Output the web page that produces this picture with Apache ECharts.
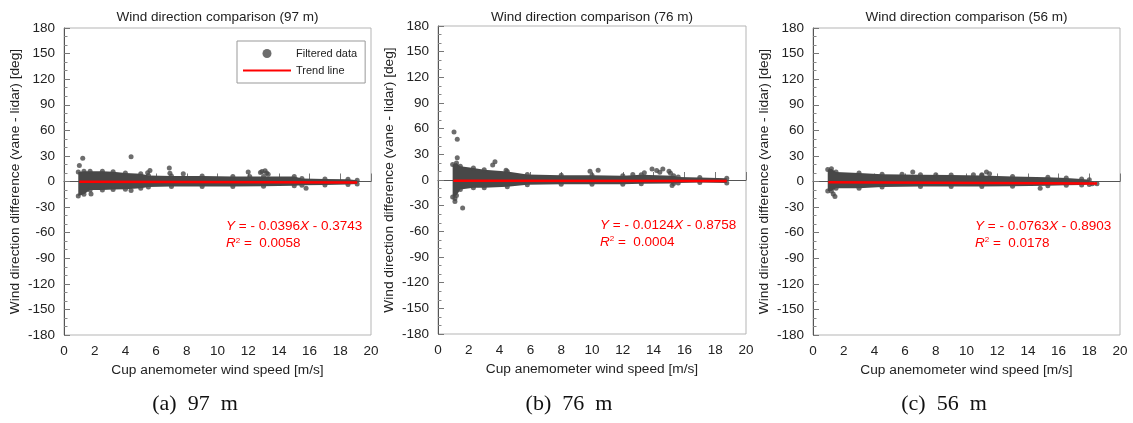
<!DOCTYPE html>
<html><head><meta charset="utf-8">
<script src="https://cdn.jsdelivr.net/npm/echarts@6/dist/echarts.min.js"></script>
<style>html,body{margin:0;padding:0;background:#fff}#c{width:1133px;height:423px}</style>
</head><body><div id="c"></div>
<script>
// ---------- data ----------
const panelTitles = ['Wind direction comparison (97 m)', 'Wind direction comparison (76 m)', 'Wind direction comparison (56 m)'];
const captions = ['(a)  97  m', '(b)  76  m', '(c)  56  m'];
const eqSlope = ['- 0.0396', '- 0.0124', '- 0.0763'];
const eqIntercept = ['- 0.3743', '- 0.8758', '- 0.8903'];
const eqR2 = ['0.0058', '0.0004', '0.0178'];
const xTicks = [0, 20, 2];        // min, max, step
const yTicks = [-180, 180, 30];   // min, max, step
const xName = 'Cup anemometer wind speed [m/s]';
const yName = 'Wind direction difference (vane - lidar) [deg]';

// dense band of filtered data: [wind speed, upper edge, lower edge]
const band97 = [[0.93, 11, -17], [1.3, 12, -15], [1.7, 12, -10], [2.5, 12, -10], [3.2, 11.5, -9.5], [4.0, 10, -9], [5.0, 9, -8], [5.5, 7, -6.5], [7, 6.5, -6], [9, 6.5, -6], [11, 6, -6], [13, 6, -5.5], [15, 6, -5], [15.5, 3.5, -4.5], [17, 3, -4], [18.5, 2.5, -3.5], [19.1, 1.5, -3]];
const band76 = [[0.95, 18, -20], [1.2, 20, -18], [1.45, 16, -11], [2.3, 14, -9], [3.0, 12, -9], [4.5, 10, -8], [5.8, 6.5, -5.5], [8, 5.5, -5], [10, 5.5, -5], [12, 5, -5], [13.2, 6, -4.5], [15.3, 5, -4], [15.6, 3.5, -3.5], [17, 3, -3], [18.75, 2, -3.5]];
const band56 = [[0.96, 14, -11], [1.2, 15, -11], [1.5, 11, -8], [3.0, 10, -8], [4.5, 8.5, -6.5], [7, 8, -6], [9, 7.5, -6], [11, 7, -6], [13, 6, -5.5], [15.3, 5, -5], [16.5, 4, -4.5], [17.5, 3, -4], [18.0, 2, -3.5]];

// scattered points outside the band: [wind speed, difference]
const out97 = [[1.0, 18.8], [1.22, 27.4], [4.37, 29], [5.45, 10.2], [5.6, 12.9], [6.86, 15.7], [6.9, 9.6], [7.77, 9], [12.0, 11], [12.1, 6], [12.8, 10.5], [12.9, 11.7], [13.1, 12.5], [13.2, 10], [13.3, 8.5], [15.77, -7.8], [1.76, -14.8], [4.37, -10.5]];
const out76 = [[1.04, 56], [1.25, 47.5], [1.25, 26], [1.1, -21.7], [1.1, -25], [1.6, -32.6], [3.55, 17.4], [3.7, 21.3], [4.42, 11.5], [9.87, 10.3], [10.4, 11.5], [12.65, 6.4], [13.4, 8.4], [13.9, 13], [14.2, 11], [14.6, 13], [14.4, 9], [15.0, 10.3], [15.1, 8], [15.2, -6.4]];
const out56 = [[1.32, -14.8], [1.43, -17.6], [5.8, 8.6], [6.5, 11], [8.0, 7.8], [10.45, 7.8], [11.0, 7.8], [11.3, 11], [11.5, 9], [14.8, -7.8], [18.2, -2.5], [18.5, -2.5]];

// trend lines (end points of the fitted lines)
const trend97 = [[1.0, -0.41], [19.1, -1.13]];
const trend76 = [[1.0, -0.89], [18.75, -1.11]];
const trend56 = [[1.0, -0.97], [18.5, -2.30]];

const bands = [band97, band76, band56];
const outs = [out97, out76, out56];
const trends = [trend97, trend76, trend56];

// ---------- layout ----------
const grids = [
  {left: 64, top: 28, width: 307, height: 307},
  {left: 438, top: 26, width: 308, height: 308},
  {left: 813, top: 28, width: 307, height: 307}
];
const eqPos = [[226, 226.7], [600, 225.3], [975, 226.3]];
const captionX = [195, 569, 944];
const FONT = 'Liberation Sans, Arial, sans-serif';
const DOT = '#484848';
const RED = '#ff0000';

const chart = echarts.init(document.getElementById('c'), null, {renderer: 'canvas'});

const xAxes = [], yAxes = [], series = [], titles = [], graphics = [];
grids.forEach((g, i) => {
  xAxes.push({
    type: 'value', gridIndex: i, min: xTicks[0], max: xTicks[1], interval: xTicks[2],
    name: xName, nameLocation: 'middle', nameGap: 25,
    nameTextStyle: {fontSize: 13.7, color: '#222', fontFamily: FONT},
    axisLine: {show: true, lineStyle: {color: '#555', width: 1}},
    axisTick: {show: true, inside: true, length: 8, lineStyle: {color: '#777'}},
    axisLabel: {fontSize: 13.5, color: '#222', margin: 9, fontFamily: FONT},
    splitLine: {show: false}
  });
  yAxes.push({
    type: 'value', gridIndex: i, min: yTicks[0], max: yTicks[1], interval: yTicks[2],
    name: yName, nameLocation: 'middle', nameGap: 42,
    nameTextStyle: {fontSize: 13.7, color: '#222', fontFamily: FONT},
    axisLine: {show: true, lineStyle: {color: '#555', width: 1}},
    axisTick: {show: true, inside: true, length: 6, lineStyle: {color: '#777'}},
    minorTick: {show: true, splitNumber: 3, length: 3.5, lineStyle: {color: '#888'}},
    axisLabel: {fontSize: 13.5, color: '#222', margin: 9, fontFamily: FONT},
    splitLine: {show: false}, minorSplitLine: {show: false}
  });
  const env = bands[i];
  series.push({
    type: 'custom', name: 'band', xAxisIndex: i, yAxisIndex: i, silent: true, z: 1,
    data: env, encode: {x: 0, y: [1, 2]},
    renderItem: function (params, api) {
      if (params.dataIndex !== 0) return null;
      const pts = [];
      for (let k = 0; k < env.length; k++) pts.push(api.coord([env[k][0], env[k][1]]));
      for (let k = env.length - 1; k >= 0; k--) pts.push(api.coord([env[k][0], env[k][2]]));
      return {type: 'polygon', shape: {points: pts}, style: {fill: DOT}};
    }
  });
  const edge = env.map(r => [r[0], r[1]]).concat(env.map(r => [r[0], r[2]]));
  series.push({
    type: 'scatter', name: 'Filtered data', xAxisIndex: i, yAxisIndex: i, z: 2,
    symbol: 'circle', symbolSize: 5, itemStyle: {color: DOT},
    data: edge.concat(outs[i])
  });
  series.push({
    type: 'line', name: 'Trend line', xAxisIndex: i, yAxisIndex: i, z: 3,
    symbol: 'none', showSymbol: false, lineStyle: {color: RED, width: 2.5}, itemStyle: {color: RED},
    data: trends[i]
  });
  titles.push({
    text: panelTitles[i], left: g.left + g.width / 2, top: 10, textAlign: 'center', padding: 0,
    textStyle: {fontSize: 13.5, fontWeight: 'normal', color: '#222', fontFamily: FONT}
  });
  titles.push({
    text: captions[i], left: captionX[i], top: 393, textAlign: 'center', padding: 0,
    textStyle: {fontSize: 22, fontWeight: 'normal', color: '#111', fontFamily: 'Liberation Serif, Times New Roman, serif'}
  });
  const rich = {
    i: {fontStyle: 'italic', fontSize: 13.5, color: RED, fontFamily: FONT},
    s: {fontSize: 8, verticalAlign: 'top', color: RED, fontFamily: FONT}
  };
  graphics.push({
    type: 'text', x: eqPos[i][0], y: eqPos[i][1],
    style: {text: '{i|Y} = ' + eqSlope[i] + '{i|X} ' + eqIntercept[i], rich: rich, fill: RED,
      fontSize: 13.5, fontFamily: FONT, verticalAlign: 'middle', align: 'left'}
  });
  graphics.push({
    type: 'text', x: eqPos[i][0], y: eqPos[i][1] + 16.6,
    style: {text: '{i|R}{s|2} =  ' + eqR2[i], rich: rich, fill: RED,
      fontSize: 13.5, fontFamily: FONT, verticalAlign: 'middle', align: 'left'}
  });
});

chart.setOption({
  animation: false,
  backgroundColor: '#fff',
  title: titles,
  grid: grids.map(g => Object.assign({show: true, borderColor: '#b5b5b5', borderWidth: 1, backgroundColor: 'transparent', containLabel: false}, g)),
  xAxis: xAxes,
  yAxis: yAxes,
  legend: {
    data: [{name: 'Filtered data', icon: 'circle'}, {name: 'Trend line', itemStyle: {opacity: 0}}],
    orient: 'vertical', left: 237, top: 41, itemWidth: 48, itemHeight: 9, itemGap: 6,
    padding: [7, 8, 7, 5], borderColor: '#999', borderWidth: 1, backgroundColor: '#fff',
    selectedMode: false,
    textStyle: {fontSize: 11, color: '#222', fontFamily: FONT}
  },
  graphic: graphics,
  series: series
});
</script>
</body></html>
